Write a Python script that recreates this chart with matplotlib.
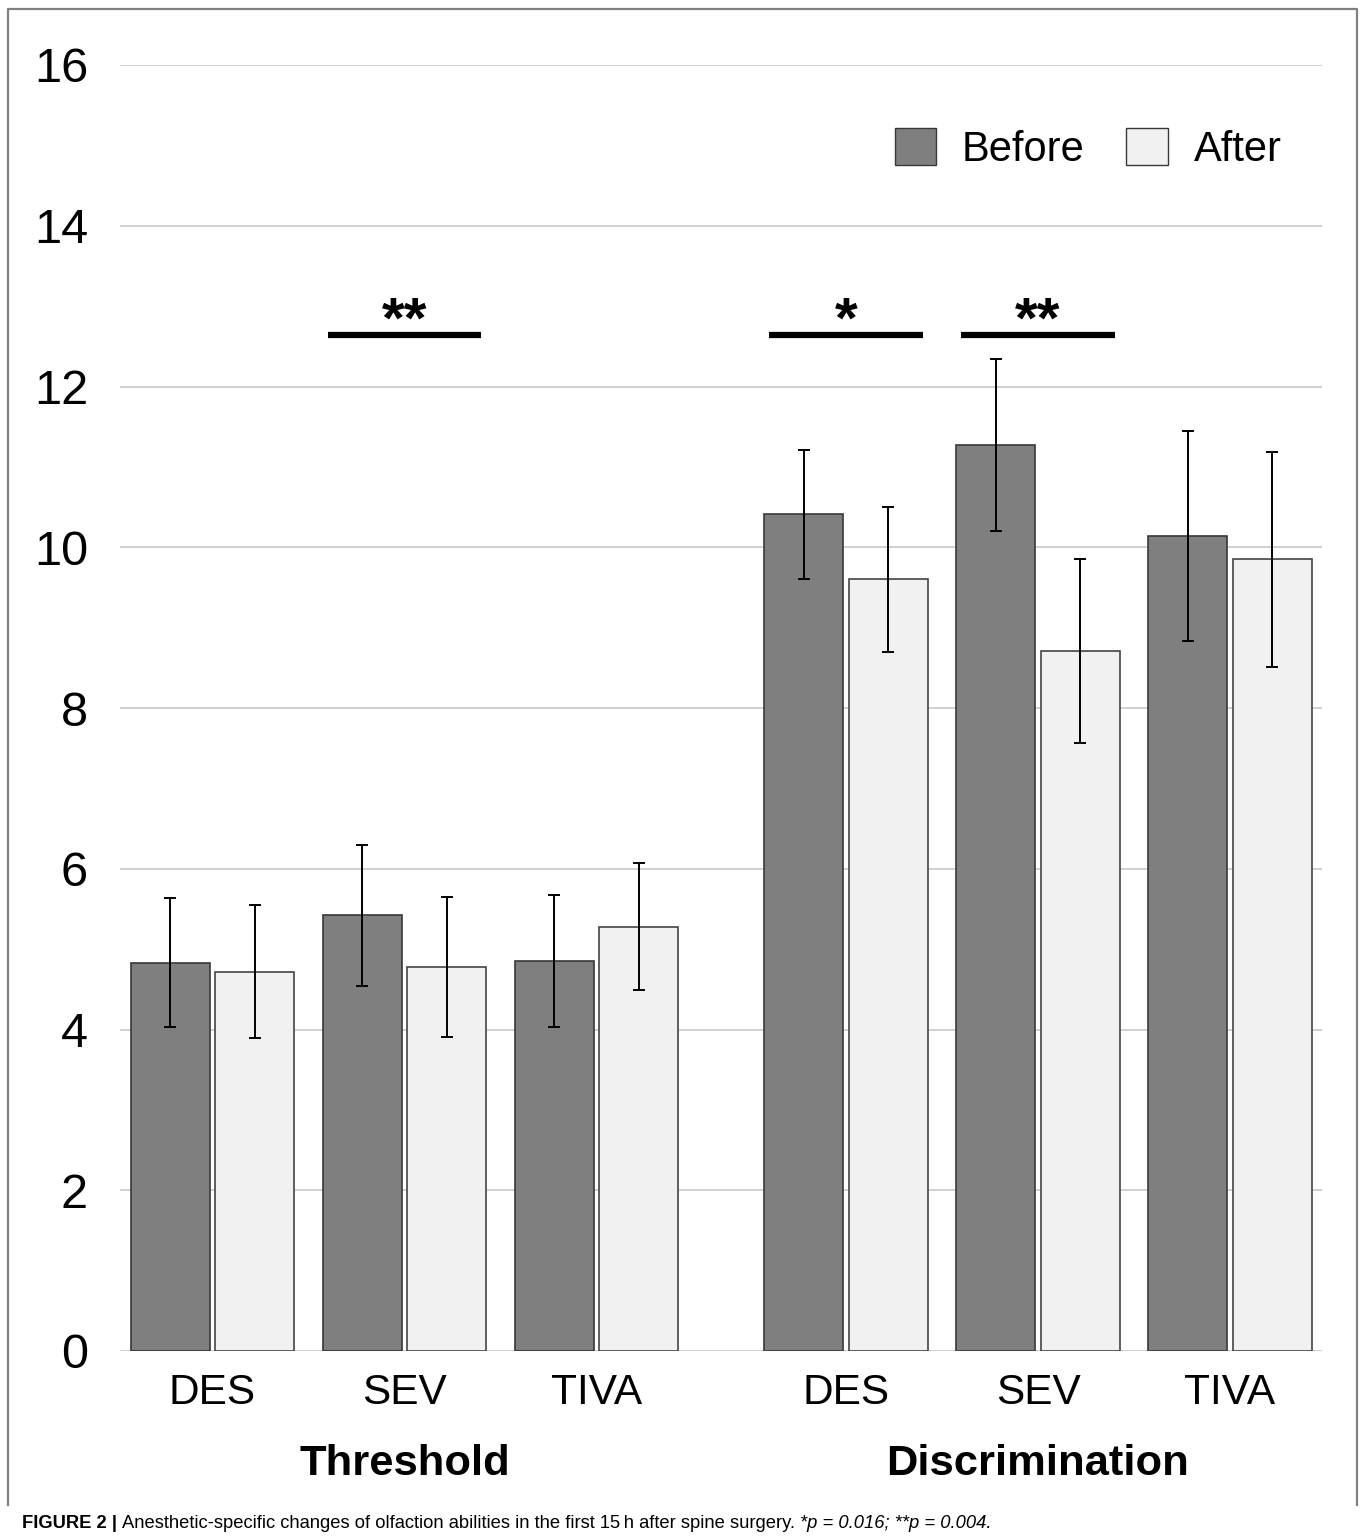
import matplotlib
matplotlib.use("Agg")
import matplotlib.pyplot as plt
from matplotlib.patches import Patch
from matplotlib.lines import Line2D

plt.rcParams["font.family"] = ["Liberation Sans", "DejaVu Sans"]

anesthetics = ["DES", "SEV", "TIVA"]
tests = ["Threshold", "Discrimination"]

before_mean = [4.83, 5.42, 4.85, 10.41, 11.27, 10.14]
before_err = [0.80, 0.88, 0.82, 0.80, 1.07, 1.31]
after_mean = [4.72, 4.78, 5.28, 9.60, 8.71, 9.85]
after_err = [0.83, 0.87, 0.79, 0.90, 1.14, 1.34]

# significance marks: (bar group index, label)
sig_marks = [(1, "**"), (3, "*"), (4, "**")]
sig_y = 12.64

pos = [0, 1, 2, 3.3, 4.3, 5.3]
w = 0.41
off = 0.22

fig = plt.figure(figsize=(13.63, 15.39), dpi=100)
ax = fig.add_axes([120 / 1363, 1 - 1351 / 1539, 1202 / 1363, 1286 / 1539])

ax.bar([p - off for p in pos], before_mean, w, color="#7f7f7f", edgecolor="#383838",
       linewidth=1.2, zorder=2)
ax.bar([p + off for p in pos], after_mean, w, color="#f1f1f1", edgecolor="#444444",
       linewidth=1.2, zorder=2)
ax.errorbar([p - off for p in pos], before_mean, yerr=before_err, fmt="none",
            ecolor="black", elinewidth=1.4, capsize=4, capthick=1.4, zorder=3)
ax.errorbar([p + off for p in pos], after_mean, yerr=after_err, fmt="none",
            ecolor="black", elinewidth=1.4, capsize=4, capthick=1.4, zorder=3)

for i, lab in sig_marks:
    ax.plot([pos[i] - 0.40, pos[i] + 0.40], [sig_y, sig_y], color="black", lw=4.5,
            solid_capstyle="butt", zorder=3)
    ax.text(pos[i], sig_y - 0.03, lab, ha="center", va="baseline", fontsize=42,
            fontweight="bold")

ax.set_ylim(0, 16)
ax.set_xlim(-0.482, 5.779)
ax.set_yticks(range(0, 17, 2))
ax.set_xticks(pos)
ax.set_xticklabels(anesthetics * 2)
ax.tick_params(axis="y", length=0, pad=23, labelsize=35)
ax.tick_params(axis="x", length=0, pad=16, labelsize=30.5)
ax.grid(axis="y", color="#c8c8c8", lw=1.2, zorder=0)
ax.set_axisbelow(True)
for s in ax.spines.values():
    s.set_visible(False)

for x, t in zip([pos[1], pos[4]], tests):
    ax.text(x, -0.088, t, transform=ax.get_xaxis_transform(), ha="center",
            va="center", fontsize=31.3, fontweight="bold")

handles = [Patch(facecolor="#7f7f7f", edgecolor="#383838", label="Before"),
           Patch(facecolor="#f1f1f1", edgecolor="#383838", label="After")]
ax.legend(handles=handles, ncol=2, frameon=False, fontsize=30, loc="center right",
          bbox_to_anchor=(0.9667, 0.9347), borderpad=0, borderaxespad=0,
          handlelength=1.0, handleheight=1.0, handletextpad=0.62, columnspacing=1.0)

# frame around the figure panel (no bottom edge)
fig.add_artist(Line2D([8 / 1363, 8 / 1363, 1357 / 1363, 1357 / 1363],
                      [1 - 1505 / 1539, 1 - 9 / 1539, 1 - 9 / 1539, 1 - 1505 / 1539],
                      transform=fig.transFigure, color="#808080", lw=1.6))

# caption
fig.canvas.draw()
r = fig.canvas.get_renderer()
cap_y = 1 - 1523 / 1539
x0 = 22 / 1363
parts = [("FIGURE 2 | ", "bold", "normal"),
         ("Anesthetic-specific changes of olfaction abilities in the first 15\u2009h after spine surgery. ", "normal", "normal"),
         ("*p = 0.016; **p = 0.004.", "normal", "italic")]
for txt, wt, st in parts:
    t = fig.text(x0, cap_y, txt, fontsize=13.2, fontweight=wt, fontstyle=st,
                 va="center", ha="left")
    bb = t.get_window_extent(renderer=r)
    x0 += bb.width / fig.bbox.width

fig.savefig("out.png", dpi=100)
